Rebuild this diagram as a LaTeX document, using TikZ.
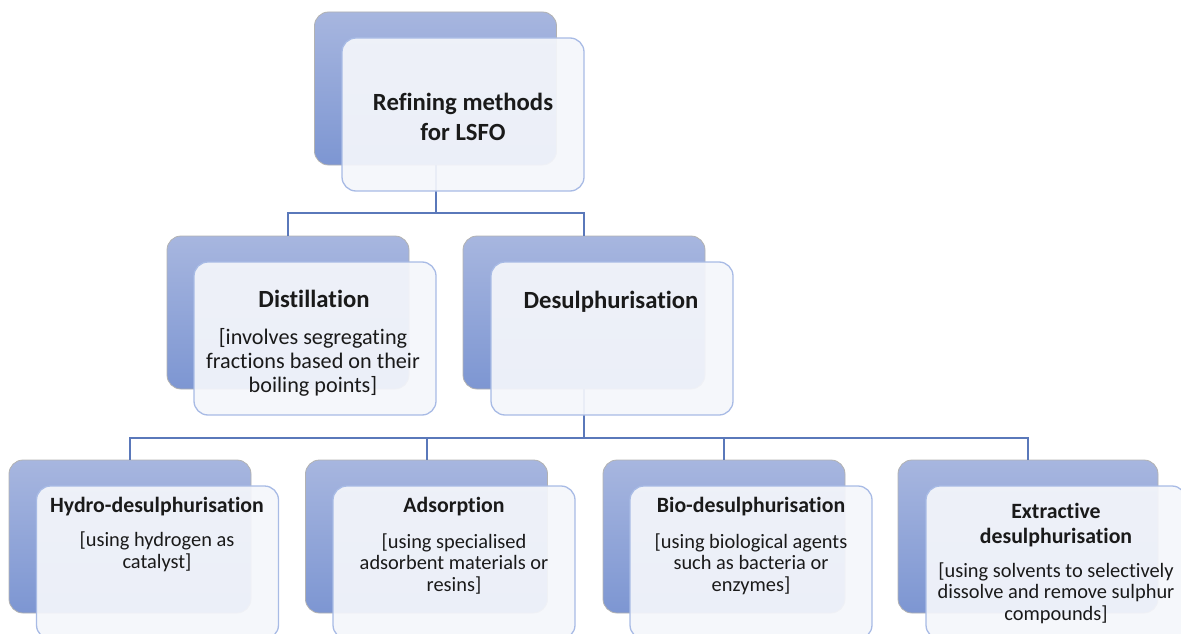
\documentclass[tikz,border=0pt]{standalone}
\usepackage{fontspec}
\setmainfont{Carlito}[Ligatures=NoCommon]
\usepackage{tikz}
\usetikzlibrary{positioning}

\definecolor{backtop}{HTML}{A7B6DF}
\definecolor{backbot}{HTML}{7D96D2}
\definecolor{frontfill}{HTML}{F4F6FB}
\definecolor{frontline}{HTML}{A8BBE5}
\definecolor{linkblue}{HTML}{5A78BA}
\definecolor{ink}{HTML}{1A1A1A}

\begin{document}
\begin{tikzpicture}[
  x=1pt, y=-1pt,
  backbox/.style={rounded corners=14pt, draw=black!30, line width=0.8pt,
    top color=backtop, bottom color=backbot, minimum width=242pt,
    minimum height=153pt, inner sep=0pt},
  frontbox/.style={rounded corners=14pt, draw=frontline, line width=1.3pt,
    fill=frontfill, fill opacity=0.93, minimum width=242pt,
    minimum height=153pt, inner sep=0pt},
  link/.style={draw=linkblue, line width=2pt},
  bighead/.style={text=ink, align=center, font=\fontsize{24.7}{30}\selectfont\bfseries},
  bigbody/.style={text=ink, align=center, font=\fontsize{22.2}{24}\selectfont},
  head/.style={text=ink, align=center, font=\fontsize{21.8}{25}\selectfont\bfseries},
  body/.style={text=ink, align=center, font=\fontsize{20.4}{21.5}\selectfont}
]
  \clip (0,0) rectangle (1181,634);
  \useasboundingbox (0,0) rectangle (1181,634);

  % back boxes
  \node[backbox] (refback) at (435.5,88.5) {};
  \node[backbox] (distback) at (288,312.5) {};
  \node[backbox] (desback) at (584,312.5) {};
  \node[backbox] (hydback) at (130,536.5) {};
  \node[backbox] (adsback) at (426.5,536.5) {};
  \node[backbox] (bioback) at (724,536.5) {};
  \node[backbox, minimum width=260pt] (extback) at (1028,536.5) {};

  % connectors
  \coordinate (split1) at (435.5,213);
  \coordinate (split2) at (584,438);
  \draw[link] (refback.south) -- (split1) -| (distback.north);
  \draw[link] (split1) -| (desback.north);
  \draw[link] (desback.south) -- (split2);
  \foreach \n in {hydback,adsback,bioback,extback}
    \draw[link] (split2) -| (\n.north);

  % front boxes
  \node[frontbox] (ref) at (463,114.5) {};
  \node[frontbox] (dist) at (315,338.5) {};
  \node[frontbox] (des) at (612,338.5) {};
  \node[frontbox] (hyd) at (157.5,562.5) {};
  \node[frontbox] (ads) at (454,562.5) {};
  \node[frontbox] (bio) at (751,562.5) {};
  \node[frontbox, minimum width=260pt] (ext) at (1056,562.5) {};

  % labels
  \node[bighead] (reft) at (463,117) {Refining methods\\for LSFO};
  \node[bighead] (distt) at (314,299) {Distillation};
  \node[bigbody] (distb) at (313,362) {[involves segregating\\fractions based on their\\boiling points]};
  \node[bighead] (dest) at (611,302) {Desulphurisation};
  \node[head] (hydt) at (157,507) {Hydro-desulphurisation};
  \node[body] (hydb) at (157,552) {[using hydrogen as\\catalyst]};
  \node[head] (adst) at (454,507) {Adsorption};
  \node[body] (adsb) at (454,564) {[using specialised\\adsorbent materials or\\resins]};
  \node[head] (biot) at (751,507) {Bio-desulphurisation};
  \node[body] (biob) at (751,564) {[using biological agents\\such as bacteria or\\enzymes]};
  \node[head] (extt) at (1056,525) {Extractive\\desulphurisation};
  \node[body] (extb) at (1056,593) {[using solvents to selectively\\dissolve and remove sulphur\\compounds]};
\end{tikzpicture}
\end{document}
